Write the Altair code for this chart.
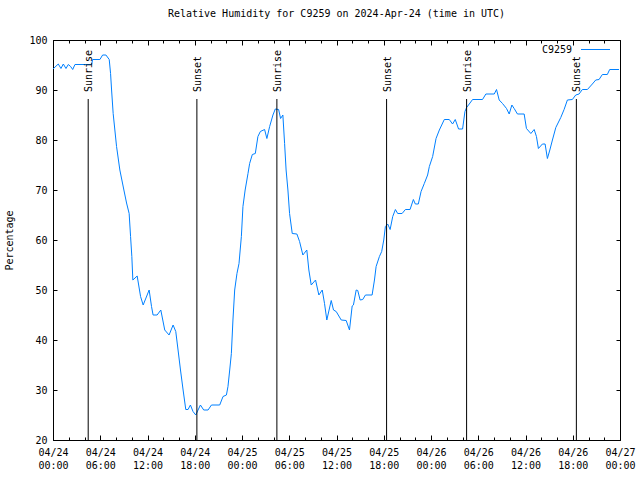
import altair as alt
import pandas as pd

# ---- data (x = hours since 2024-04-24 00:00 UTC) -----------------------------
hours = [0.0, 0.67, 1.01, 1.31, 1.65, 1.94, 2.24, 2.50, 2.79, 4.91,
         5.03, 5.96, 6.30, 6.72, 7.14, 7.31, 7.44, 7.64, 8.07, 8.49,
         9.00, 9.34, 9.67, 9.85, 10.01, 10.14, 10.69, 11.12, 11.45, 12.21,
         12.51, 12.71, 13.22, 13.69, 14.19, 14.74, 15.25, 15.59, 15.88, 16.19,
         16.52, 16.86, 17.15, 17.45, 17.78, 18.13, 18.42, 18.72, 19.14, 19.69,
         20.12, 21.17, 21.59, 22.02, 22.22, 22.44, 22.65, 22.85, 23.07, 23.36,
         23.62, 23.92, 24.12, 24.40, 24.76, 24.97, 25.31, 25.69, 26.02, 26.33,
         26.87, 27.16, 27.51, 27.93, 28.23, 28.65, 28.90, 29.19, 29.41, 29.60,
         29.83, 30.04, 30.38, 30.97, 31.31, 31.73, 32.23, 32.49, 32.79, 33.34,
         33.76, 34.19, 34.48, 34.77, 35.33, 35.62, 35.96, 36.60, 37.23, 37.65,
         37.99, 38.15, 38.50, 38.70, 39.00, 39.33, 39.68, 40.52, 40.82, 41.03,
         41.45, 41.74, 42.00, 42.21, 42.50, 42.81, 43.14, 43.48, 43.77, 44.33,
         44.75, 45.34, 45.76, 46.01, 46.39, 46.74, 47.15, 47.57, 47.79, 48.21,
         48.64, 49.06, 49.69, 50.32, 50.74, 51.08, 51.50, 52.01, 52.31, 52.52,
         52.86, 53.28, 54.54, 54.97, 56.03, 56.32, 56.66, 57.08, 57.59, 57.93,
         58.27, 58.56, 58.98, 59.83, 60.12, 60.68, 61.10, 61.39, 61.64, 62.15,
         62.49, 62.78, 63.09, 63.42, 63.85, 64.48, 64.90, 65.32, 65.95, 66.38,
         66.80, 67.22, 67.86, 68.49, 68.92, 69.34, 69.76, 70.39, 70.69, 71.87]

humidity = [94.2, 95.2, 94.3, 95.2, 94.3, 95.1, 94.7, 94.1, 95.1, 95.1,
            96.1, 96.1, 97.0, 97.0, 96.1, 93.3, 90.0, 85.3, 78.7, 74.0,
            70.0, 67.4, 65.3, 60.7, 56.7, 52.0, 52.8, 48.7, 47.0, 50.0,
            46.7, 45.0, 45.0, 46.0, 42.0, 41.0, 43.0, 41.7, 38.0, 34.0,
            30.0, 26.1, 26.1, 27.0, 25.7, 25.0, 26.0, 27.0, 26.0, 26.0,
            27.0, 27.0, 28.7, 29.0, 30.7, 34.0, 37.3, 44.0, 50.0, 53.3,
            55.3, 60.7, 66.7, 70.0, 73.3, 75.3, 77.1, 77.3, 80.7, 81.7,
            82.1, 80.3, 82.7, 85.0, 86.2, 86.1, 84.3, 85.0, 79.3, 74.0,
            70.0, 65.3, 61.3, 61.2, 59.7, 57.0, 58.0, 54.0, 51.0, 52.0,
            49.0, 50.0, 47.3, 44.0, 47.9, 46.0, 45.7, 44.0, 43.9, 42.0,
            46.8, 47.0, 50.0, 49.9, 48.0, 48.1, 49.0, 49.0, 52.0, 54.7,
            56.7, 57.7, 60.0, 62.7, 63.2, 62.1, 64.7, 66.1, 65.3, 65.3,
            66.1, 66.1, 68.1, 67.2, 67.2, 69.7, 71.3, 73.0, 74.7, 76.7,
            80.3, 82.0, 84.1, 84.1, 83.2, 84.1, 82.2, 82.2, 85.7, 86.5,
            87.2, 88.1, 88.1, 89.2, 89.2, 90.1, 88.0, 87.3, 86.3, 85.2,
            87.0, 86.3, 85.2, 85.2, 82.3, 81.3, 82.1, 80.7, 78.3, 79.2,
            79.2, 76.3, 78.0, 80.0, 82.5, 84.5, 86.1, 88.0, 88.1, 89.0,
            89.2, 90.1, 90.1, 91.2, 92.0, 92.1, 93.1, 93.1, 94.1, 94.1]

sun_hours = [4.47, 18.27, 28.43, 42.36, 52.52, 66.46]
sun_labels = ["Sunrise", "Sunset", "Sunrise", "Sunset", "Sunrise", "Sunset"]
station = "C9259"
title_text = "Relative Humidity for C9259 on 2024-Apr-24 (time in UTC)"
x_major = [0, 6, 12, 18, 24, 30, 36, 42, 48, 54, 60, 66, 72]
x_minor = list(range(0, 73, 2))
y_ticks = [20, 30, 40, 50, 60, 70, 80, 90, 100]

# ---- tables -----------------------------------------------------------------
df = pd.DataFrame({"hour": hours, "rh": humidity})
sun = pd.DataFrame({"hour": sun_hours, "label": sun_labels})
leg = pd.DataFrame({"name": [station]})

FONT = "DejaVu Sans Mono"
LINE_COLOR = "#0080ff"

x_scale = alt.Scale(domain=[0, 72], nice=False, zero=False)
y_scale = alt.Scale(domain=[20, 100], nice=False, zero=False)

MAJ = 5
MIN = 3
common = dict(domain=False, grid=False, title=None, tickColor="black", tickWidth=1)

label_expr = ("['04/' + (24 + floor(datum.value / 24)), "
              "(datum.value % 24 < 10 ? '0' : '') + (datum.value % 24) + ':00']")

x_bottom_major = alt.Axis(
    orient="bottom", offset=-MAJ, tickSize=MAJ, values=x_major,
    labelExpr=label_expr,
    labelFont=FONT, labelFontSize=10, labelColor="black", labelPadding=7,
    labelLineHeight=13, labelOverlap=False, labelFlush=False, labelBound=False,
    **common)
x_top_major = alt.Axis(orient="top", offset=-MAJ, tickSize=MAJ, labels=False,
                       values=x_major, **common)
x_bottom_minor = alt.Axis(orient="bottom", offset=-MIN, tickSize=MIN, labels=False,
                          values=x_minor, **common)
x_top_minor = alt.Axis(orient="top", offset=-MIN, tickSize=MIN, labels=False,
                       values=x_minor, **common)

y_left = alt.Axis(orient="left", offset=-4, tickSize=4, values=y_ticks,
                  labelFont=FONT, labelFontSize=10, labelColor="black", labelPadding=6,
                  domain=False, grid=False, tickColor="black",
                  title="Percentage", titleFont=FONT, titleFontSize=10,
                  titleFontWeight="normal", titleColor="black", titlePadding=14)
y_right = alt.Axis(orient="right", offset=-4, tickSize=4, values=y_ticks, labels=False,
                   **common)

# ---- layers -----------------------------------------------------------------
line = alt.Chart(df).mark_line(color=LINE_COLOR, strokeWidth=1).encode(
    x=alt.X("hour:Q", scale=x_scale, axis=x_bottom_major),
    y=alt.Y("rh:Q", scale=y_scale, axis=y_left),
)
ghost1 = alt.Chart(df).mark_line(opacity=0).encode(
    x=alt.X("hour:Q", scale=x_scale, axis=x_top_major),
    y=alt.Y("rh:Q", scale=y_scale, axis=y_right),
)
ghost2 = alt.Chart(df).mark_line(opacity=0).encode(
    x=alt.X("hour:Q", scale=x_scale, axis=x_bottom_minor),
    y=alt.Y("rh:Q", scale=y_scale, axis=None),
)
ghost3 = alt.Chart(df).mark_line(opacity=0).encode(
    x=alt.X("hour:Q", scale=x_scale, axis=x_top_minor),
    y=alt.Y("rh:Q", scale=y_scale, axis=None),
)

rules = alt.Chart(sun).mark_rule(color="black", strokeWidth=1).encode(
    x=alt.X("hour:Q", scale=x_scale, axis=None),
    y=alt.YDatum(20, scale=y_scale, axis=None),
    y2=alt.datum(88.2),
)
labels = alt.Chart(sun).mark_text(
    angle=270, align="left", baseline="middle", font=FONT, fontSize=10,
    color="black", dy=1).encode(
    x=alt.X("hour:Q", scale=x_scale, axis=None),
    y=alt.YDatum(89.6, scale=y_scale, axis=None),
    text="label:N",
)

leg_text = alt.Chart(leg).mark_text(
    align="right", baseline="middle", font=FONT, fontSize=10, color="black").encode(
    x=alt.value(519), y=alt.value(9.5), text="name:N")
leg_line = alt.Chart(leg).mark_rule(color=LINE_COLOR, strokeWidth=1).encode(
    x=alt.value(528), x2=alt.value(557), y=alt.value(9.5))

chart = alt.layer(line, ghost1, ghost2, ghost3, rules, labels, leg_text, leg_line).resolve_axis(
    x="independent", y="independent"
).properties(
    width=567, height=400,
    title=alt.TitleParams(title_text, font=FONT, fontSize=10, fontWeight="normal",
                          anchor="middle", color="black", offset=16),
    autosize=alt.AutoSizeParams(type="none"),
    padding={"left": 53, "top": 40, "right": 20, "bottom": 40},
).configure_view(stroke="black", strokeWidth=1)

chart.save("out.html", embed_options={"renderer": "svg", "actions": False})
